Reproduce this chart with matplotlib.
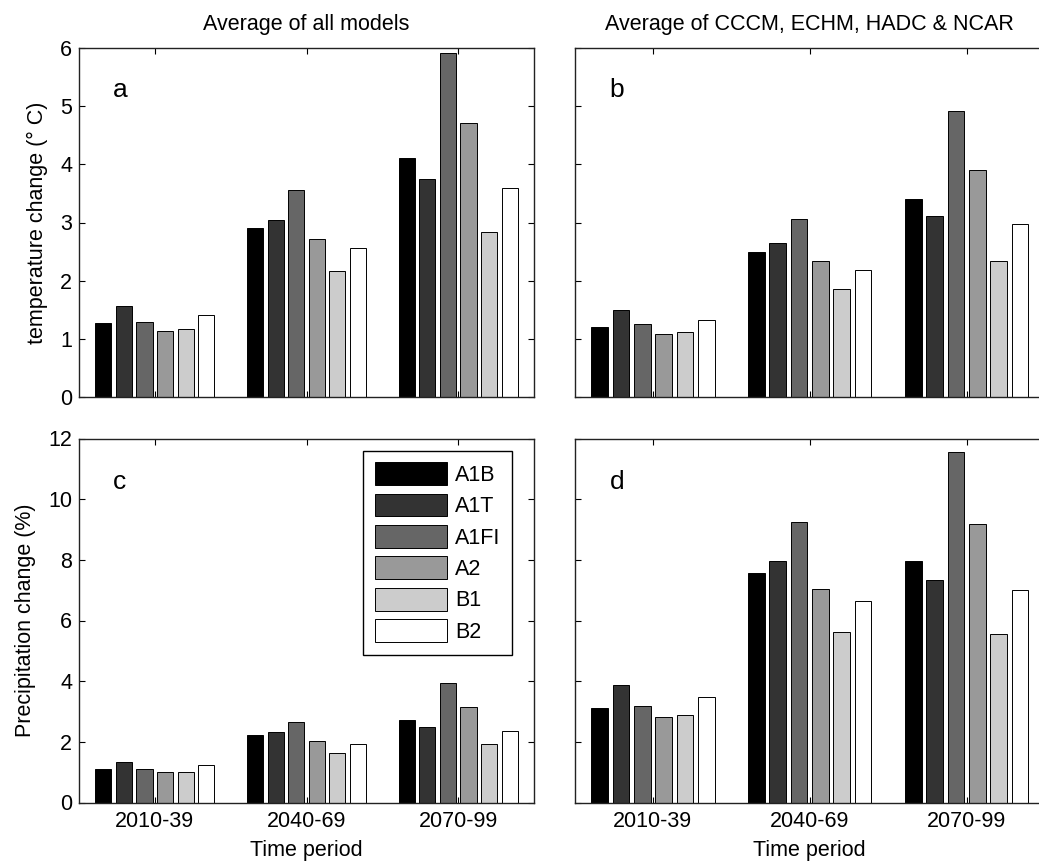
import matplotlib
matplotlib.use('Agg')
import matplotlib.pyplot as plt
import numpy as np

plt.rcParams['font.family'] = ['Liberation Sans', 'DejaVu Sans']

periods = ['2010-39', '2040-69', '2070-99']
scenarios = ['A1B', 'A1T', 'A1FI', 'A2', 'B1', 'B2']
colors = ['#000000', '#333333', '#666666', '#999999', '#cccccc', '#ffffff']

# rows = scenarios, columns = periods
temp_all = [[1.27, 2.90, 4.11],
            [1.57, 3.04, 3.74],
            [1.29, 3.56, 5.92],
            [1.14, 2.72, 4.71],
            [1.17, 2.16, 2.84],
            [1.41, 2.56, 3.59]]
temp_four = [[1.21, 2.49, 3.40],
             [1.49, 2.64, 3.12],
             [1.25, 3.06, 4.91],
             [1.09, 2.34, 3.91],
             [1.12, 1.85, 2.34],
             [1.33, 2.18, 2.97]]
prec_all = [[1.11, 2.22, 2.73],
            [1.34, 2.32, 2.50],
            [1.11, 2.67, 3.94],
            [1.00, 2.03, 3.14],
            [1.00, 1.62, 1.92],
            [1.22, 1.92, 2.37]]
prec_four = [[3.12, 7.57, 7.97],
             [3.88, 7.97, 7.34],
             [3.19, 9.26, 11.57],
             [2.83, 7.04, 9.18],
             [2.89, 5.61, 5.55],
             [3.47, 6.65, 6.99]]

FS = 15.5
W, H = 1039, 865
fig = plt.figure(figsize=(W / 100, H / 100), dpi=100)

def px_axes(left, top, right, bottom):
    return fig.add_axes([left / W, 1 - bottom / H, (right - left) / W, (bottom - top) / H])

ax_a = px_axes(79, 48, 534, 397)
ax_b = px_axes(574.5, 48, 1045, 397)
ax_c = px_axes(79, 438.5, 534, 802.5)
ax_d = px_axes(574.5, 438.5, 1045, 802.5)

x = np.arange(1, len(periods) + 1)
pitch = 0.136
width = 0.106

def draw(ax, data, ymax, yticks, letter, show_ylabels, show_xlabels):
    handles = []
    for i, name in enumerate(scenarios):
        h = ax.bar(x + (i - 2.5) * pitch, data[i], width, color=colors[i],
                   edgecolor='black', linewidth=0.7, label=name, zorder=2)
        handles.append(h)
    ax.set_xlim(0.5, 3.5)
    ax.set_ylim(0, ymax)
    ax.set_yticks(yticks)
    ax.set_xticks(x)
    ax.tick_params(direction='in', top=True, right=True, length=4, width=0.8,
                   labelsize=FS)
    ax.tick_params(axis='x', pad=6)
    ax.tick_params(axis='y', pad=5)
    if show_xlabels:
        ax.set_xticklabels(periods)
    else:
        ax.set_xticklabels([])
    if not show_ylabels:
        ax.set_yticklabels([])
    for s in ax.spines.values():
        s.set_linewidth(1.0)
        s.set_color('#222222')
    ax.text(0.09, 0.88, letter, transform=ax.transAxes, fontsize=19,
            ha='center', va='center')
    return handles

draw(ax_a, temp_all, 6, range(0, 7), 'a', True, False)
draw(ax_b, temp_four, 6, range(0, 7), 'b', False, False)
hs = draw(ax_c, prec_all, 12, range(0, 13, 2), 'c', True, True)
draw(ax_d, prec_four, 12, range(0, 13, 2), 'd', False, True)

ax_a.set_title('Average of all models', fontsize=FS, pad=13)
ax_b.set_title('Average of CCCM, ECHM, HADC & NCAR', fontsize=FS, pad=13)
ax_a.set_ylabel('temperature change (° C)', fontsize=FS, labelpad=8.5)
ax_c.set_ylabel('Precipitation change (%)', fontsize=FS, labelpad=8.5)
ax_c.set_xlabel('Time period', fontsize=FS, labelpad=6)
ax_d.set_xlabel('Time period', fontsize=FS, labelpad=6)

leg = ax_c.legend(handles=hs, loc='upper right', bbox_to_anchor=(0.952, 0.967),
                  borderaxespad=0, fancybox=False, framealpha=1, edgecolor='black',
                  fontsize=FS, handlelength=3.35, handleheight=1.25,
                  labelspacing=0.36, handletextpad=0.37, borderpad=0.55)
leg.get_frame().set_linewidth(1.0)

fig.savefig('out.png', dpi=100)
